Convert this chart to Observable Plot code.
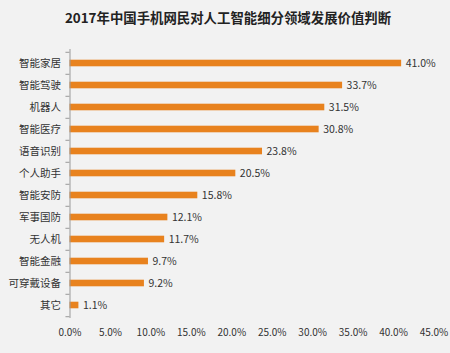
<!DOCTYPE html>
<html>
<head>
<meta charset="utf-8">
<script src="https://cdn.jsdelivr.net/npm/d3@7"></script>
<script src="https://cdn.jsdelivr.net/npm/@observablehq/plot@0.6"></script>
<style>
  html, body { margin: 0; padding: 0; background: #f2f2f2; }
  #wrap { position: relative; width: 450px; height: 353px; background: #f2f2f2; font-family: "Noto Sans CJK SC", sans-serif; overflow: hidden; }
  #title { height: 36px; line-height: 34px; text-align: center; font-size: 13.4px; font-weight: bold; color: #222; padding-left: 6px; }
</style>
</head>
<body>
<div id="wrap">
  <div id="title">2017年中国手机网民对人工智能细分领域发展价值判断</div>
  <div id="chart"></div>
</div>
<script>
const categories = ["智能家居","智能驾驶","机器人","智能医疗","语音识别","个人助手","智能安防","军事国防","无人机","智能金融","可穿戴设备","其它"];
const values = [41.0, 33.7, 31.5, 30.8, 23.8, 20.5, 15.8, 12.1, 11.7, 9.7, 9.2, 1.1];
const xTicks = [0, 5, 10, 15, 20, 25, 30, 35, 40, 45];

const data = categories.map((c, i) => ({category: c, value: values[i]}));

const height = 317, marginTop = 13, marginBottom = 35;
const step = (height - marginTop - marginBottom) / categories.length;

const chart = Plot.plot({
  width: 450,
  height,
  marginLeft: 69.5,
  marginRight: 16.5,
  marginTop,
  marginBottom,
  style: {background: "transparent", fontFamily: "Noto Sans CJK SC, sans-serif", color: "#333"},
  x: {domain: [0, 45], ticks: xTicks, tickFormat: d => d.toFixed(1) + "%", label: null},
  y: {domain: categories, padding: 0, label: null},
  marks: [
    Plot.axisX({ticks: xTicks, tickFormat: d => d.toFixed(1) + "%", tickSize: 0, tickPadding: 10, fontSize: 10, fill: "#333"}),
    Plot.axisY({tickSize: 0, tickPadding: 9, fontSize: 10.5, fill: "#333"}),
    Plot.barX(data, {y: "category", x: "value", fill: "#E8821E", insetTop: 7.7, insetBottom: 7.7}),
    Plot.text(data, {y: "category", x: "value", text: d => d.value.toFixed(1) + "%", textAnchor: "start", dx: 4, fontSize: 10.5, fill: "#333"}),
    Plot.ruleX([0], {stroke: "#999", strokeWidth: 1}),
    Plot.ruleY(categories, {y: d => d, x1: -0.5, x2: 0, dy: -step / 2, stroke: "#999"}),
    Plot.ruleY([categories[categories.length - 1]], {y: d => d, x1: -0.5, x2: 0, dy: step / 2, stroke: "#999"})
  ]
});
document.getElementById("chart").appendChild(chart);
</script>
</body>
</html>
